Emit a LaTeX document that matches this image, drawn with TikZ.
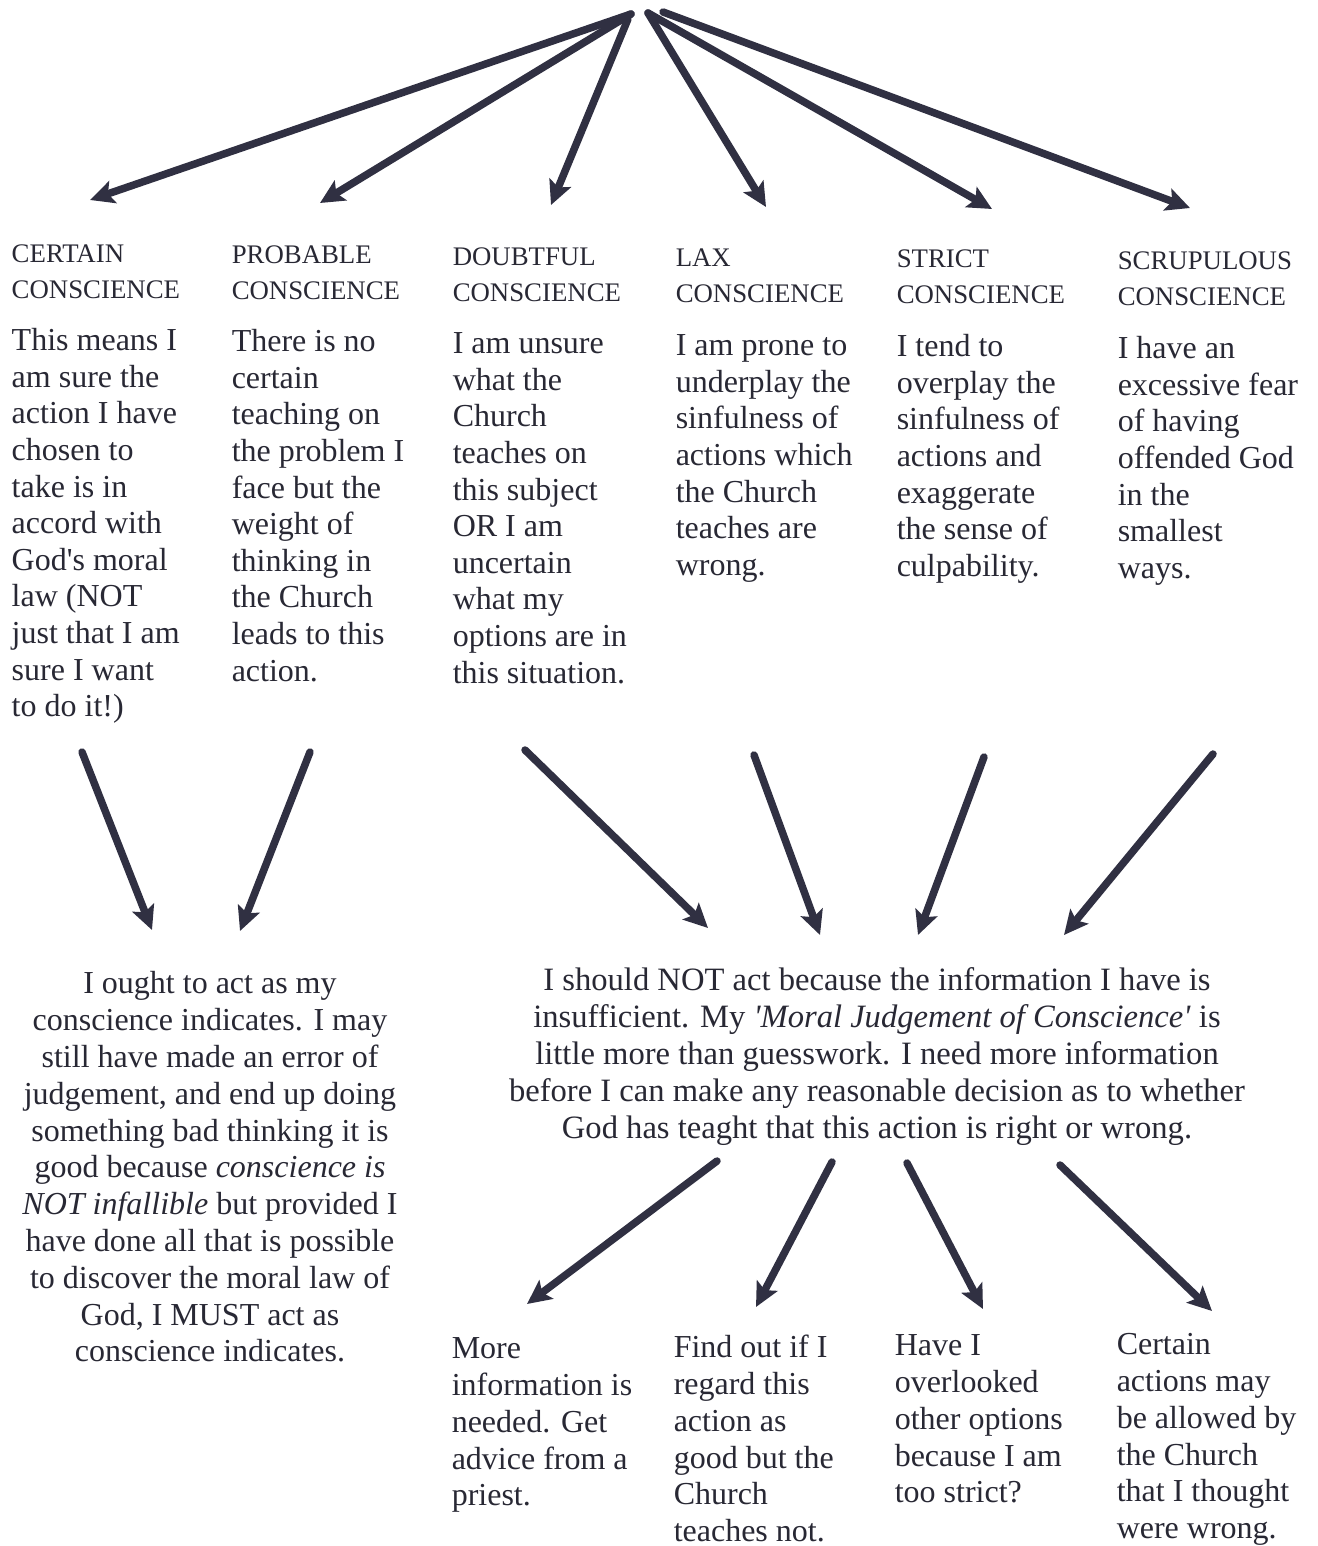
\documentclass[tikz,border=0pt]{standalone}
\usepackage{fontspec}
\setmainfont{Liberation Serif}
\usetikzlibrary{arrows.meta}
\definecolor{ink}{RGB}{40,40,52}
\definecolor{pen}{RGB}{48,48,66}

\begin{document}
\begin{tikzpicture}[x=1pt, y=-1pt]

\path[use as bounding box, fill=white] (0,0) rectangle (1317,1546);

\tikzset{%
every node/.style={inner sep=0pt, text=ink},%
every path/.style={-{Stealth[length=24pt,width=23pt,inset=5pt]}, line width=7.5pt, color=pen, line cap=round}%
}

\tikzstyle{head}=[anchor=north west, align=left, font=\fontsize{26.8}{36}\selectfont]
\tikzstyle{desc}=[anchor=north west, align=left, font=\fontsize{32}{36.6}\selectfont]
\tikzstyle{verdict}=[anchor=north, align=center, font=\fontsize{32}{36.8}\selectfont]
\tikzstyle{advice}=[anchor=north west, align=left, font=\fontsize{32}{36.8}\selectfont]

% the six kinds of conscience
\node[head] (hd-certain) at (8,233.8) {\strut CERTAIN\\CONSCIENCE};
\node[head] (hd-probable) at (228,234.8) {\strut PROBABLE\\CONSCIENCE};
\node[head] (hd-doubtful) at (449,236.8) {\strut DOUBTFUL\\CONSCIENCE};
\node[head] (hd-lax) at (672,237.8) {\strut LAX\\CONSCIENCE};
\node[head] (hd-strict) at (893,238.8) {\strut STRICT\\CONSCIENCE};
\node[head] (hd-scrupulous) at (1114,240.8) {\strut SCRUPULOUS\\CONSCIENCE};

\node[desc] (certain) at (8,321.4) {\strut This means I\\am sure the\\action I have\\chosen to\\take is in\\accord with\\God\textquotesingle s moral\\law (NOT\\just that I am\\sure I want\\to do it!)};
\node[desc] (probable) at (228,322.4) {\strut There is no\\certain\\teaching on\\the problem I\\face but the\\weight of\\thinking in\\the Church\\leads to this\\action.};
\node[desc] (doubtful) at (449,324.4) {\strut I am unsure\\what the\\Church\\teaches on\\this subject\\OR I am\\uncertain\\what my\\options are in\\this situation.};
\node[desc] (lax) at (672,326.4) {\strut I am prone to\\underplay the\\sinfulness of\\actions which\\the Church\\teaches are\\wrong.};
\node[desc] (strict) at (893,327.4) {\strut I tend to\\overplay the\\sinfulness of\\actions and\\exaggerate\\the sense of\\culpability.};
\node[desc] (scrupulous) at (1114,329.4) {\strut I have an\\excessive fear\\of having\\offended God\\in the\\smallest\\ways.};

% what follows from them
\node[verdict] (act) at (210,964.4) {\strut I ought to act as my\\conscience indicates. I may\\still have made an error of\\judgement, and end up doing\\something bad thinking it is\\good because \textit{conscience is}\\\textit{NOT infallible} but provided I\\have done all that is possible\\to discover the moral law of\\God, I MUST act as\\conscience indicates.};
\node[verdict, font=\fontsize{32.6}{36.8}\selectfont] (noact) at (877,961.4) {\strut I should NOT act because the information I have is\\insufficient. My \textit{\textquotesingle Moral Judgement of Conscience\textquotesingle} is\\little more than guesswork. I need more information\\before I can make any reasonable decision as to whether\\God has teaght that this action is right or wrong.};

\node[advice] (priest) at (448,1329.2) {\strut More\\information is\\needed. Get\\advice from a\\priest.};
\node[advice] (regard) at (670,1328.2) {\strut Find out if I\\regard this\\action as\\good but the\\Church\\teaches not.};
\node[advice] (options) at (891,1326.2) {\strut Have I\\overlooked\\other options\\because I am\\too strict?};
\node[advice] (allowed) at (1113,1325.2) {\strut Certain\\actions may\\be allowed by\\the Church\\that I thought\\were wrong.};

% top fan
\coordinate (apex-l) at (631,14);
\coordinate (apex-d) at (628,19);
\coordinate (apex-r) at (648,13);
\coordinate (apex-rr) at (663,12);
\coordinate (to-certain) at (90,200);
\coordinate (to-probable) at (320,203);
\coordinate (to-doubtful) at (551,205);
\coordinate (to-lax) at (766,207);
\coordinate (to-strict) at (992,209);
\coordinate (to-scrupulous) at (1190,208);
\draw (apex-l) to (to-certain);
\draw (apex-l) to (to-probable);
\draw (apex-d) to (to-doubtful);
\draw (apex-r) to (to-lax);
\draw (apex-r) to (to-strict);
\draw (apex-rr) to (to-scrupulous);

% middle arrows
\coordinate (from-certain) at (82,752);
\coordinate (from-probable) at (310,752);
\coordinate (from-doubtful) at (525,750);
\coordinate (from-lax) at (754,755);
\coordinate (from-strict) at (984,757);
\coordinate (from-scrupulous) at (1213,754);
\coordinate (to-act-l) at (152,930);
\coordinate (to-act-r) at (240,931);
\coordinate (to-noact-1) at (708,928);
\coordinate (to-noact-2) at (820,935);
\coordinate (to-noact-3) at (918,935);
\coordinate (to-noact-4) at (1064,935);
\draw (from-certain) to (to-act-l);
\draw (from-probable) to (to-act-r);
\draw (from-doubtful) to (to-noact-1);
\draw (from-lax) to (to-noact-2);
\draw (from-strict) to (to-noact-3);
\draw (from-scrupulous) to (to-noact-4);

% bottom fan
\coordinate (from-noact-1) at (717,1161);
\coordinate (from-noact-2) at (832,1162);
\coordinate (from-noact-3) at (907,1163);
\coordinate (from-noact-4) at (1060,1165);
\coordinate (to-priest) at (527,1304);
\coordinate (to-regard) at (756,1307);
\coordinate (to-options) at (983,1309);
\coordinate (to-allowed) at (1212,1311);
\draw (from-noact-1) to (to-priest);
\draw (from-noact-2) to (to-regard);
\draw (from-noact-3) to (to-options);
\draw (from-noact-4) to (to-allowed);

\end{tikzpicture}
\end{document}
